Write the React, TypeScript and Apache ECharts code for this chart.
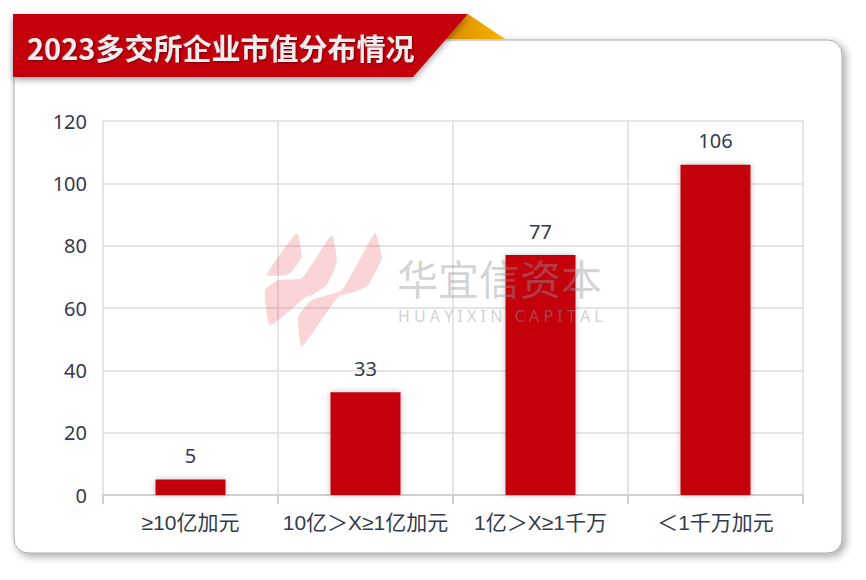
import React, { useEffect, useRef } from "react";
import * as echarts from "echarts";

const categories = ["≥10亿加元", "10亿＞X≥1亿加元", "1亿＞X≥1千万", "＜1千万加元"];
const counts = [5, 33, 77, 106];
const yTicks = [0, 20, 40, 60, 80, 100, 120];
const titleText = "2023多交所企业市值分布情况";
const wmCn = "华宜信资本";
const wmEn = "H U A Y I X I N   C A P I T A L";

const logoShapes: number[][][] = [
  [[266.7, 275], [296.7, 233.3], [301.7, 256.7], [291.7, 271.7], [286.7, 275]],
  [[270, 325], [265, 290], [278.3, 280], [301.7, 278.3], [331.7, 235], [336.7, 261.7], [326.7, 285], [311.7, 295], [306, 297]],
  [[301.7, 346.7], [298.3, 316.7], [311.7, 300], [341.7, 290], [375, 233.3], [381.7, 258.3], [368.3, 285], [355, 291.7], [338.3, 296.7]],
];

export default function App() {
  const ref = useRef<HTMLDivElement>(null);
  useEffect(() => {
    if (!ref.current) return;
    const chart = echarts.init(ref.current, null, { renderer: "svg" });
    chart.setOption({
      animation: false,
      backgroundColor: "#ffffff",
      grid: { left: 103, right: 63, top: 121, bottom: 85 },
      xAxis: {
        type: "category",
        data: categories,
        axisLine: { show: true, lineStyle: { color: "#d0d0d0", width: 2 } },
        axisTick: { show: true, interval: 0, length: 9, lineStyle: { color: "#d0d0d0", width: 2 } },
        splitLine: { show: true, interval: 0, lineStyle: { color: "#dcdcdc", width: 1.5 } },
        axisLabel: {
          interval: 0,
          color: "#333a4d",
          fontSize: 21,
          margin: 17,
          fontFamily: "Liberation Sans, Noto Sans CJK SC, sans-serif",
        },
      },
      yAxis: {
        type: "value",
        min: yTicks[0],
        max: yTicks[yTicks.length - 1],
        interval: 20,
        axisLine: { show: false },
        axisTick: { show: false },
        splitLine: { show: true, lineStyle: { color: "#dcdcdc", width: 1.5 } },
        axisLabel: {
          color: "#333a4d",
          fontSize: 20,
          margin: 16,
          fontFamily: "Noto Sans, sans-serif",
        },
      },
      series: [
        {
          type: "bar",
          data: counts,
          barWidth: 70,
          itemStyle: {
            color: "#c4000a",
            shadowBlur: 6,
            shadowColor: "rgba(0,0,0,0.25)",
          },
          label: {
            show: true,
            position: "top",
            distance: 14,
            color: "#333a4d",
            fontSize: 20,
            fontFamily: "Noto Sans, sans-serif",
          },
        },
      ],
      graphic: [
        {
          type: "rect",
          z: -10,
          shape: { x: 14, y: 40, width: 828, height: 513, r: 14 },
          style: {
            fill: "#ffffff",
            stroke: "#a8a8a8",
            lineWidth: 1,
            shadowBlur: 8,
            shadowOffsetX: 3,
            shadowOffsetY: 3,
            shadowColor: "rgba(0,0,0,0.35)",
          },
        },
        {
          type: "polygon",
          z: 50,
          shape: { points: [[468, 14], [505, 39], [446, 39]] },
          style: {
            fill: new echarts.graphic.LinearGradient(0, 0, 1, 0, [
              { offset: 0, color: "#d98a00" },
              { offset: 1, color: "#f7b500" },
            ]),
          },
        },
        {
          type: "polygon",
          z: 51,
          shape: { points: [[13, 14], [468, 14], [413, 77], [13, 77]] },
          style: {
            fill: "#c4000a",
            shadowBlur: 6,
            shadowOffsetY: 3,
            shadowColor: "rgba(0,0,0,0.35)",
          },
        },
        {
          type: "text",
          z: 52,
          x: 27,
          y: 47,
          style: {
            text: titleText,
            fontSize: 29,
            fontWeight: "bold",
            fontFamily: "Noto Sans CJK SC, sans-serif",
            fill: "#eeeeee",
            textVerticalAlign: "middle",
            textShadowBlur: 2,
            textShadowOffsetX: 1,
            textShadowOffsetY: 1,
            textShadowColor: "rgba(0,0,0,0.4)",
          },
        },
        ...logoShapes.map((pts) => ({
          type: "polygon",
          z: 100,
          shape: { points: pts, smooth: 0.15 },
          style: { fill: "rgba(232,60,70,0.22)" },
        })),
        {
          type: "text",
          z: 100,
          x: 397,
          y: 277,
          style: {
            text: wmCn,
            fontSize: 41,
            lineHeight: 40,
            fontFamily: "Noto Sans CJK SC, sans-serif",
            fill: "rgba(150,150,150,0.42)",
            textVerticalAlign: "middle",
          },
        },
        {
          type: "text",
          z: 100,
          x: 398,
          y: 316,
          style: {
            text: wmEn,
            fontSize: 16,
            lineHeight: 16,
            fontFamily: "Noto Sans, sans-serif",
            fill: "rgba(150,150,150,0.45)",
            textVerticalAlign: "middle",
          },
        },
      ],
    });
    return () => chart.dispose();
  }, []);
  return (
    <div
      ref={ref}
      style={{ position: "fixed", left: 0, top: 0, width: 866, height: 580 }}
    />
  );
}
